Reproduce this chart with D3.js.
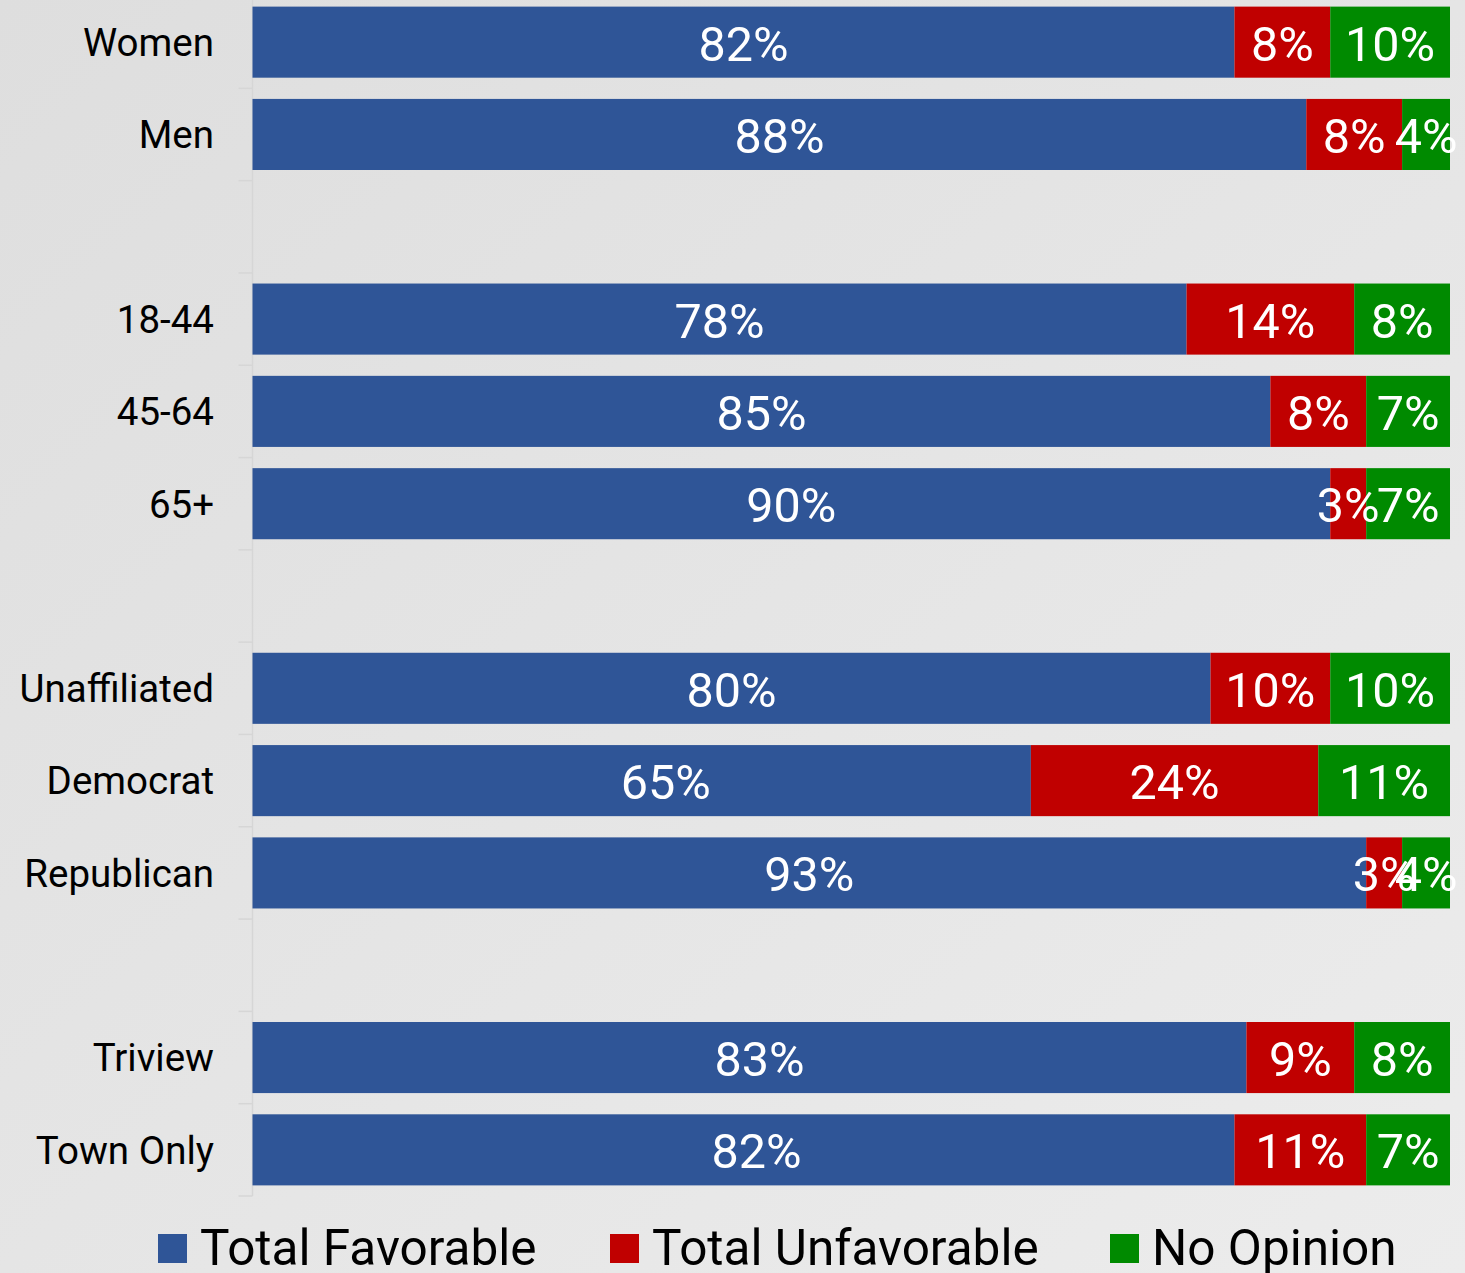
<!DOCTYPE html>
<html><head><meta charset="utf-8">
<script src="https://cdn.jsdelivr.net/npm/d3@7"></script>
<style>html,body{margin:0;padding:0;overflow:hidden;}svg{display:block;}</style>
</head><body>
<script>
const categories = ["Women","Men","gap1","18-44","45-64","65+","gap2","Unaffiliated","Democrat","Republican","gap3","Triview","Town Only"];
const favorable   = [82,88,null,78,85,90,null,80,65,93,null,83,82];
const unfavorable = [8,8,null,14,8,3,null,10,24,3,null,9,11];
const noOpinion   = [10,4,null,8,7,7,null,10,11,4,null,8,7];
const seriesNames = ["Total Favorable","Total Unfavorable","No Opinion"];
const colors = ["#2F5597","#C00000","#008A00"];

(function(){
const W = 1465, H = 1273;
// small manual nudges of the favorable labels, as in the original
const favLabelNudge = {"Democrat":24, "Triview":10, "Town Only":13};
const svg = d3.select("body").append("svg").attr("width",W).attr("height",H);
const defs = svg.append("defs");
const grad = defs.append("linearGradient").attr("id","bg").attr("x1","0").attr("y1","0").attr("x2","1").attr("y2","1");
grad.append("stop").attr("offset","0").attr("stop-color","#dedede");
grad.append("stop").attr("offset","1").attr("stop-color","#ececec");
svg.append("rect").attr("width",W).attr("height",H).attr("fill","url(#bg)");

const pLeft = 252.5, pRight = 1450, pTop = -4, pBottom = 1196;
const x = d3.scaleLinear().domain([0,100]).range([pLeft,pRight]);
const y = d3.scaleBand().domain(categories).range([pTop,pBottom]).paddingInner(0.23).paddingOuter(0.115);

const rows = categories.map((c,i)=>({cat:c, vals:[favorable[i],unfavorable[i],noOpinion[i]]})).filter(d=>d.vals[0]!==null);
const stackData = rows.map(r=>{ let acc=0; return {cat:r.cat, segs:r.vals.map((v,k)=>{const s={k,v,x0:acc,x1:acc+v}; acc+=v; return s;})}; });

// axis
const axis = d3.axisLeft(y).tickSize(0).tickFormat("");
const ag = svg.append("g").attr("transform",`translate(${pLeft},0)`).call(axis);
ag.select(".domain").attr("stroke","#d6d6d6").attr("stroke-width",1.5).attr("d",`M0,${pTop}V${pBottom}`);
// boundary ticks
const step = y.step();
const bounds = d3.range(categories.length+1).map(i=>pTop+i*step).filter(v=>v>0);
svg.append("g").selectAll("line").data(bounds).join("line")
  .attr("x1",pLeft-14).attr("x2",pLeft).attr("y1",d=>d).attr("y2",d=>d)
  .attr("stroke","#d6d6d6").attr("stroke-width",1.5);

// category labels
svg.append("g").selectAll("text").data(rows).join("text")
  .attr("x",214).attr("y",d=>y(d.cat)+y.bandwidth()/2)
  .attr("dy","0.36em").attr("text-anchor","end")
  .attr("font-family","Roboto, sans-serif").attr("font-size",38.5).attr("fill","#000")
  .text(d=>d.cat);

// bars
const g = svg.append("g");
stackData.forEach(r=>{
  g.selectAll(null).data(r.segs).join("rect")
    .attr("x",d=>x(d.x0)).attr("width",d=>x(d.x1)-x(d.x0))
    .attr("y",y(r.cat)).attr("height",y.bandwidth())
    .attr("fill",d=>colors[d.k]);
});
stackData.forEach(r=>{
  g.selectAll(null).data(r.segs).join("text")
    .attr("x",d=>(x(d.x0)+x(d.x1))/2 + (d.k===0 ? (favLabelNudge[r.cat]||0) : 0))
    .attr("y",y(r.cat)+y.bandwidth()/2)
    .attr("dy","0.38em").attr("text-anchor","middle")
    .attr("font-family","Roboto, sans-serif").attr("font-size",48.5).attr("fill","#fff")
    .text(d=>d.v+"%");
});

// legend
const legX = [158,610,1110];
const lg = svg.append("g");
seriesNames.forEach((n,i)=>{
  lg.append("rect").attr("x",legX[i]).attr("y",1234).attr("width",29).attr("height",29).attr("fill",colors[i]);
  lg.append("text").attr("x",legX[i]+42).attr("y",1265)
    .attr("font-family","Roboto, sans-serif").attr("font-size",49.5).attr("fill","#000").text(n);
});
})();
</script>
</body></html>
